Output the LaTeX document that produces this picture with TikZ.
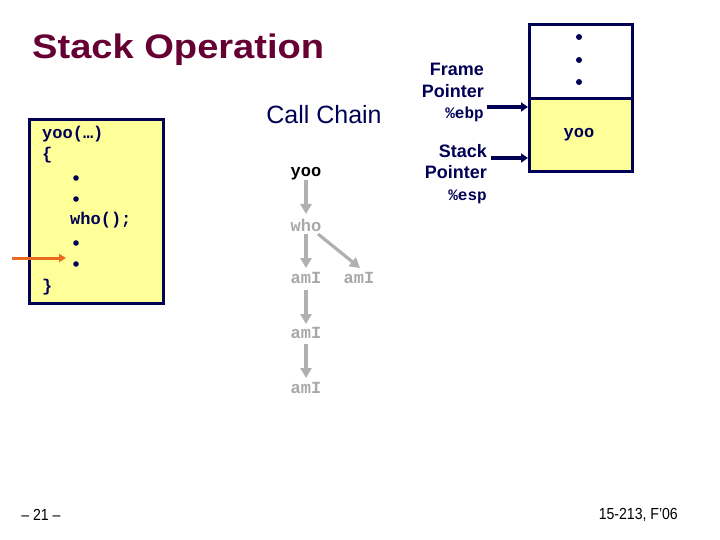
\documentclass[tikz,border=0pt]{standalone}
\usepackage{fontspec}
\setmainfont{Liberation Sans}
\setmonofont{Liberation Mono}
\usetikzlibrary{arrows.meta}
\definecolor{titlecol}{HTML}{660033}
\definecolor{navy}{HTML}{000055}
\definecolor{boxyel}{HTML}{FFFF99}
\definecolor{arrgray}{HTML}{B0B0B0}
\definecolor{txtgray}{HTML}{A8A8A8}
\definecolor{orng}{HTML}{E86A1E}
\begin{document}
\begin{tikzpicture}[x=1pt,y=-1pt,
  code/.style={inner sep=0pt,anchor=west,font=\fontsize{17}{17}\selectfont\ttfamily\bfseries,text=navy},
  chain/.style={inner sep=0pt,font=\fontsize{17}{17}\selectfont\ttfamily\bfseries,text=txtgray},
  garrow/.style={draw=arrgray,line width=3.2pt,-{Triangle[length=10pt,width=11pt]}},
  narrow/.style={draw=navy,line width=3.5pt,-{Triangle[length=7pt,width=9pt]}},
  lbl/.style={inner sep=0pt,align=right,anchor=north east,font=\fontsize{18}{21.5}\selectfont\bfseries,text=navy},
  dotc/.style={fill=navy,draw=none}]
\useasboundingbox (0,0) rectangle (720,540);
% title
\node[inner sep=0pt,anchor=west,text=titlecol,font=\fontsize{34}{34}\selectfont\bfseries,xscale=1.12] (title) at (32,50) {Stack Operation};
% code box
\node[draw=navy,line width=3pt,fill=boxyel,minimum width=134pt,minimum height=184pt,anchor=north west,inner sep=0pt] (codebox) at (28,118) {};
\node[code] (c1) at (42,134) {yoo(\ldots)};
\node[code] (c2) at (42,155) {\{};
\fill[dotc] (76,178) circle (2.8) (76,199) circle (2.8) (76,243) circle (2.8) (76,264) circle (2.8);
\node[code] (c3) at (70,220) {who();};
\node[code] (c4) at (42,287) {\}};
\coordinate (oa) at (12,258);
\coordinate (ob) at (66,258);
\draw[draw=orng,line width=3pt,-{Triangle[length=7pt,width=8pt]}] (oa) -- (ob);
% call chain
\node[inner sep=0pt,text=navy,font=\fontsize{25}{25}\selectfont] (cc) at (324,115) {Call Chain};
\node[chain,text=black] (yoo) at (306,174) {yoo};
\node[chain] (who) at (306,225) {who};
\node[chain] (am1) at (306,278) {amI};
\node[chain] (am2) at (359,278) {amI};
\node[chain] (am3) at (306,333) {amI};
\node[chain] (am4) at (306,388) {amI};
\coordinate (y0) at (306,180);
\draw[garrow] (y0) -- (306,214);
\draw[garrow] (306,234) -- (306,268);
\draw[garrow] (318,234) -- (360,268);
\draw[garrow] (306,290) -- (306,324);
\draw[garrow] (306,344) -- (306,378);
% stack
\node[draw=navy,line width=3pt,fill=white,minimum width=103pt,minimum height=74pt,anchor=north west,inner sep=0pt] (top) at (528,23) {};
\node[draw=navy,line width=3pt,fill=boxyel,minimum width=103pt,minimum height=73pt,anchor=north west,inner sep=0pt] (frame) at (528,97) {};
\fill[dotc] (579,37) circle (3) (579,60) circle (3) (579,82) circle (3);
\node[chain,text=navy] (fy) at (579,135) {yoo};
\node[lbl] (fp) at (484,63) {Frame\\Pointer\\{\fontsize{16}{16}\selectfont\ttfamily\%ebp}};
\node[lbl] (sp) at (487,144) {Stack\\Pointer\\{\fontsize{16}{16}\selectfont\ttfamily\%esp}};
\coordinate (fpa) at (487,107);
\coordinate (spa) at (491,158);
\draw[narrow] (fpa) -- (frame.west |- fpa);
\draw[narrow] (spa) -- (frame.west |- spa);
% footer
\node[inner sep=0pt,font=\fontsize{16}{16}\selectfont,xscale=0.88] (pg) at (41,515) {-- 21 --};
\node[inner sep=0pt,anchor=east,font=\fontsize{16}{16}\selectfont,xscale=0.88] (course) at (678,515) {15-213, F'06};
\end{tikzpicture}
\end{document}
